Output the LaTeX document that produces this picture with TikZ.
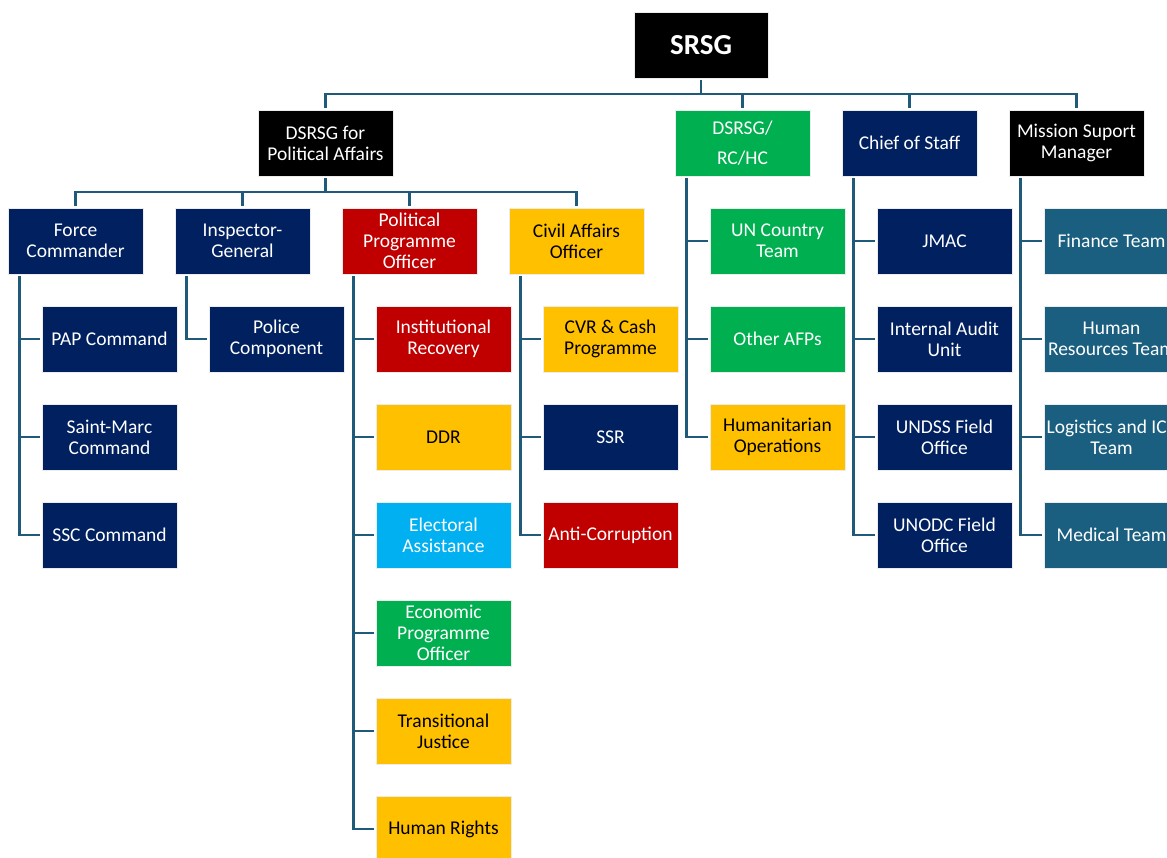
\documentclass[tikz,border=0pt]{standalone}
\usepackage{fontspec}
\setmainfont{Carlito}
\definecolor{navy}{HTML}{002060}
\definecolor{ured}{HTML}{C00000}
\definecolor{gold}{HTML}{FFC000}
\definecolor{ugreen}{HTML}{00B050}
\definecolor{sky}{HTML}{00B0F0}
\definecolor{teal}{HTML}{1B5F80}
\definecolor{conn}{HTML}{1F5A7A}
\tikzset{
  box/.style={minimum width=135pt,minimum height=66pt,inner sep=0pt,align=center,
    font=\fontsize{19.5}{21}\selectfont,text=white,draw=white!85!gray,line width=0.6pt},
  bk/.style={box,fill=black},
  nv/.style={box,fill=navy},
  rd/.style={box,fill=ured},
  gd/.style={box,fill=gold,text=black},
  gr/.style={box,fill=ugreen},
  sk/.style={box,fill=sky},
  tl/.style={box,fill=teal},
  link/.style={draw=conn,line width=2.8pt,shorten <=2pt,shorten >=2pt},
}
\begin{document}
\begin{tikzpicture}[x=1pt,y=-1pt]
\useasboundingbox (0,0) rectangle (1167,857);
\clip (0,0) rectangle (1167,857);
% top
\node[bk,minimum width=134pt,font=\fontsize{29}{32}\selectfont\bfseries] (srsg) at (701,45) {SRSG};
% level 2
\node[bk] (dpol) at (325.5,143) {DSRSG for\\Political Affairs};
\node[gr] (rchc) at (742.5,143) {DSRSG/\\[9pt]RC/HC};
\node[nv] (cos) at (909.5,143) {Chief of Staff};
\node[bk] (msm) at (1076.5,143) {Mission Suport\\Manager};
% level 3 under DSRSG political
\node[nv] (fc) at (75.5,241) {Force\\Commander};
\node[nv] (ig) at (242.5,241) {Inspector-\\General};
\node[rd] (ppo) at (409.5,241) {Political\\Programme\\Officer};
\node[gd] (cao) at (576.5,241) {Civil Affairs\\Officer};
% Force Commander children
\node[nv] (pap) at (109.5,339) {PAP Command};
\node[nv] (smc) at (109.5,437) {Saint-Marc\\Command};
\node[nv] (ssc) at (109.5,535) {SSC Command};
% Inspector-General children
\node[nv] (pol) at (276.5,339) {Police\\Component};
% Political Programme Officer children
\node[rd] (ir) at (443.5,339) {Institutional\\Recovery};
\node[gd] (ddr) at (443.5,437) {DDR};
\node[sk] (ea) at (443.5,535) {Electoral\\Assistance};
\node[gr] (epo) at (443.5,633) {Economic\\Programme\\Officer};
\node[gd] (tj) at (443.5,731) {Transitional\\Justice};
\node[gd] (hr) at (443.5,829) {Human Rights};
% Civil Affairs children
\node[gd] (cvr) at (610.5,339) {CVR \& Cash\\Programme};
\node[nv] (ssr) at (610.5,437) {SSR};
\node[rd] (ac) at (610.5,535) {Anti-Corruption};
% RC/HC children
\node[gr] (unct) at (777.5,241) {UN Country\\Team};
\node[gr] (afp) at (777.5,339) {Other AFPs};
\node[gd] (hum) at (777.5,437) {Humanitarian\\Operations};
% Chief of Staff children
\node[nv] (jmac) at (944.5,241) {JMAC};
\node[nv] (iau) at (944.5,339) {Internal Audit\\Unit};
\node[nv] (undss) at (944.5,437) {UNDSS Field\\Office};
\node[nv] (unodc) at (944.5,535) {UNODC Field\\Office};
% Mission Support children
\node[tl] (fin) at (1111.5,241) {Finance Team};
\node[tl] (hrt) at (1111.5,339) {Human\\Resources Team};
\node[tl] (log) at (1111.5,437) {Logistics and ICT\\Team};
\node[tl] (med) at (1111.5,535) {Medical Team};
% buses
\coordinate (b0) at (701,94);
\draw[link,shorten >=0pt] (srsg.south) -- (b0);
\foreach \n in {dpol,rchc,cos,msm} \draw[link,shorten <=0pt] (b0) -| (\n.north);
\coordinate (b1) at (325.5,192);
\draw[link,shorten >=0pt] (dpol.south) -- (b1);
\foreach \n in {fc,ig,ppo,cao} \draw[link,shorten <=0pt] (b1) -| (\n.north);
% vertical trees
\foreach \p/\kids in {fc/{pap,smc,ssc},ig/{pol},ppo/{ir,ddr,ea,epo,tj,hr},cao/{cvr,ssr,ac},rchc/{unct,afp,hum},cos/{jmac,iau,undss,unodc},msm/{fin,hrt,log,med}}{
  \foreach \c in \kids \draw[link] ([xshift=12pt]\p.south west) |- (\c.west);
}
\end{tikzpicture}
\end{document}
